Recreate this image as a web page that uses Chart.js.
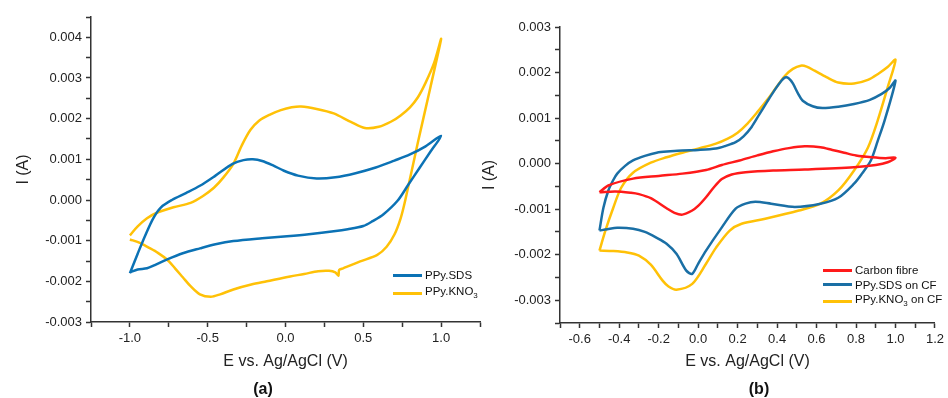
<!DOCTYPE html>
<html>
<head>
<meta charset="utf-8">
<script src="https://cdn.jsdelivr.net/npm/chart.js@4.4.1/dist/chart.umd.min.js"></script>
<style>
  body { margin: 0; background: #fff; }
  #wrap { position: relative; width: 948px; height: 398px; overflow: hidden; font-family: "Liberation Sans", Arial, sans-serif; }
  canvas { position: absolute; top: 0; }
  #chartA { left: 0; }
  #chartB { left: 474px; }
  .panel-label { position: absolute; font-weight: bold; font-size: 16px; line-height: 16px; color: #111; transform: translate(-50%, -50%); }
  .legend { position: absolute; font-size: 11.5px; color: #111; }
  .legend .row { display: flex; align-items: center; white-space: nowrap; }
  .legend .swatch { display: inline-block; width: 29px; height: 0; border-top: 3px solid; margin-right: 3px; }
</style>
</head>
<body>
<div id="wrap">
  <canvas id="chartA" width="490" height="398"></canvas>
  <canvas id="chartB" width="474" height="398"></canvas>
  <div class="legend" id="legendA" style="left:393px; top:267px; line-height:16px;"></div>
  <div class="legend" id="legendB" style="left:823px; top:263px; line-height:14.5px;"></div>
  <div class="panel-label" style="left:263px; top:389px;">(a)</div>
  <div class="panel-label" style="left:759px; top:389px;">(b)</div>
</div>
<script>
// Panel (a): PPy films, potential in V and current in A
const sdsE = [-1.00, -0.95, -0.90, -0.85, -0.80, -0.73, -0.64, -0.55, -0.45, -0.34, -0.27, -0.21, -0.15, -0.08, -0.01, 0.08, 0.20, 0.32, 0.45, 0.58, 0.70, 0.80, 0.90, 1.00,
  0.93, 0.86, 0.79, 0.72, 0.63, 0.56, 0.50, 0.40, 0.31, 0.15, 0.01, -0.15, -0.335, -0.45, -0.55, -0.66, -0.76, -0.84, -0.89, -0.95, -1.00];
const sdsI = [-0.00180, -0.00132, -0.00086, -0.00045, -0.00018, 0.00000, 0.00017, 0.00035, 0.00060, 0.00089, 0.00098, 0.00100, 0.00096, 0.00085, 0.00072, 0.00060, 0.00053, 0.00056, 0.00066, 0.00080, 0.00097, 0.00112, 0.00132, 0.00158,
  0.00118, 0.00078, 0.00038, -0.00002, -0.00035, -0.00052, -0.00064, -0.00072, -0.00077, -0.00084, -0.00089, -0.00094, -0.00101, -0.00109, -0.00119, -0.00131, -0.00146, -0.00160, -0.00168, -0.00171, -0.00178];

const kno3E = [-1.00, -0.95, -0.89, -0.83, -0.72, -0.61, -0.53, -0.46, -0.40, -0.335, -0.28, -0.226, -0.17, -0.10, -0.03, 0.04, 0.10, 0.20, 0.31, 0.42, 0.51, 0.60, 0.68, 0.74, 0.80, 0.85, 0.90, 0.955, 1.00,
  0.93, 0.85, 0.77, 0.74, 0.70, 0.65, 0.59, 0.48, 0.37, 0.345, 0.34, 0.32, 0.28, 0.21, 0.12, 0.03, -0.12, -0.22, -0.335, -0.42, -0.48, -0.55, -0.61, -0.66, -0.71, -0.76, -0.82, -0.88, -0.94, -1.00];
const kno3I = [-0.00087, -0.00065, -0.00045, -0.00032, -0.00018, -0.00007, 0.00010, 0.00030, 0.00055, 0.00089, 0.00135, 0.00172, 0.00195, 0.00210, 0.00221, 0.00228, 0.00230, 0.00224, 0.00213, 0.00192, 0.00177, 0.00180, 0.00193, 0.00208, 0.00228, 0.00252, 0.00288, 0.00337, 0.00396,
  0.00275, 0.00140, 0.00000, -0.00045, -0.00085, -0.00115, -0.00135, -0.00151, -0.00168, -0.00172, -0.00186, -0.00178, -0.00174, -0.00175, -0.00182, -0.00188, -0.00200, -0.00208, -0.00220, -0.00232, -0.00238, -0.00232, -0.00212, -0.00190, -0.00168, -0.00147, -0.00130, -0.00117, -0.00105, -0.00097];

// Panel (b): on carbon fibre
const cfE = [-0.50, -0.455, -0.33, -0.20, -0.08, 0.04, 0.12, 0.21, 0.30, 0.38, 0.46, 0.54, 0.62, 0.68, 0.74, 0.80, 0.88, 0.95, 1.00,
  0.96, 0.90, 0.79, 0.54, 0.38, 0.24, 0.17, 0.12, 0.08, 0.04, 0.00, -0.03, -0.08, -0.12, -0.16, -0.24, -0.30, -0.34, -0.42, -0.50];
const cfI = [-0.00063, -0.00048, -0.00033, -0.00027, -0.00022, -0.00014, -0.00003, 0.00007, 0.00018, 0.00027, 0.00034, 0.00038, 0.00036, 0.00030, 0.00024, 0.00018, 0.00014, 0.00012, 0.00013,
  0.00003, -0.00003, -0.00008, -0.00013, -0.00015, -0.00019, -0.00024, -0.00034, -0.00052, -0.00074, -0.00093, -0.00103, -0.00112, -0.00108, -0.00098, -0.00076, -0.00067, -0.00064, -0.00061, -0.00063];

const sdsCfE = [-0.50, -0.48, -0.455, -0.43, -0.41, -0.37, -0.33, -0.27, -0.21, -0.14, -0.08, 0.00, 0.09, 0.14, 0.19, 0.23, 0.27, 0.31, 0.35, 0.39, 0.42, 0.44, 0.46, 0.48, 0.505, 0.53, 0.58, 0.63, 0.71, 0.79, 0.87, 0.93, 0.97, 1.00,
  0.945, 0.91, 0.875, 0.83, 0.79, 0.71, 0.62, 0.49, 0.37, 0.29, 0.24, 0.19, 0.12, 0.04, 0.00, -0.03, -0.06, -0.11, -0.16, -0.21, -0.27, -0.33, -0.41, -0.46, -0.50];
const sdsCfI = [-0.00147, -0.00097, -0.00059, -0.00036, -0.00022, -0.00005, 0.00007, 0.00017, 0.00024, 0.00027, 0.00029, 0.00030, 0.00033, 0.00039, 0.00047, 0.00060, 0.00080, 0.00108, 0.00136, 0.00163, 0.00181, 0.00189, 0.00187, 0.00176, 0.00155, 0.00138, 0.00126, 0.00122, 0.00125, 0.00131, 0.00140, 0.00153, 0.00166, 0.00182,
  0.00095, 0.00050, 0.00007, -0.00022, -0.00044, -0.00075, -0.00088, -0.00095, -0.00088, -0.00084, -0.00088, -0.00099, -0.00140, -0.00191, -0.00220, -0.00242, -0.00235, -0.00198, -0.00176, -0.00163, -0.00150, -0.00143, -0.00141, -0.00144, -0.00147];

const kno3CfE = [-0.50, -0.47, -0.43, -0.39, -0.33, -0.24, -0.16, -0.08, 0.00, 0.09, 0.15, 0.20, 0.25, 0.30, 0.35, 0.40, 0.44, 0.48, 0.52, 0.55, 0.59, 0.65, 0.71, 0.79, 0.86, 0.915, 0.96, 1.00,
  0.96, 0.91, 0.86, 0.79, 0.71, 0.62, 0.51, 0.34, 0.22, 0.16, 0.09, 0.04, -0.03, -0.11, -0.15, -0.18, -0.24, -0.30, -0.36, -0.43, -0.50];
const kno3CfI = [-0.00191, -0.00147, -0.00097, -0.00053, -0.00020, 0.00002, 0.00014, 0.00024, 0.00033, 0.00044, 0.00055, 0.00068, 0.00088, 0.00113, 0.00140, 0.00170, 0.00193, 0.00208, 0.00215, 0.00213, 0.00204, 0.00190, 0.00178, 0.00176, 0.00184, 0.00198, 0.00212, 0.00228,
  0.00167, 0.00095, 0.00035, -0.00015, -0.00059, -0.00088, -0.00103, -0.00121, -0.00132, -0.00147, -0.00185, -0.00220, -0.00264, -0.00277, -0.00270, -0.00257, -0.00222, -0.00202, -0.00195, -0.00192, -0.00191];

const BLUE_A = "#0b72b5";
const BLUE_B = "#1a6fa5";
const YELLOW = "#ffc107";
const RED = "#ff1a1a";
const FONT = "'Liberation Sans', Arial, sans-serif";

function pts(xs, ys) {
  return xs.map((x, i) => ({ x: x, y: ys[i] }));
}

function line(label, xs, ys, color) {
  return {
    label: label,
    data: pts(xs, ys),
    showLine: true,
    borderColor: color,
    backgroundColor: color,
    borderWidth: 2.5,
    pointRadius: 0,
    tension: 0.3,
    fill: false,
  };
}

// every step gets a tick mark, only the major ones get a label
function axis(opts) {
  return {
    type: "linear",
    min: opts.min,
    max: opts.max,
    afterFit: opts.afterFit,
    border: { display: true, color: "#333", width: 1.5 },
    grid: { display: true, drawOnChartArea: false, drawTicks: true, tickLength: 5, tickColor: "#333", tickWidth: 1.5 },
    title: {
      display: true,
      text: opts.title,
      color: "#222",
      font: { family: FONT, size: 16 },
      padding: opts.titlePadding,
    },
    ticks: {
      stepSize: opts.step,
      autoSkip: false,
      maxRotation: 0,
      padding: 4,
      color: "#222",
      font: { family: FONT, size: 13 },
      callback: (v) => {
        const n = Math.round(v / opts.step);
        if (n % 2 !== 0) return "";
        if (Math.abs(v) < 1e-9) return (0).toFixed(opts.digits);
        return v.toFixed(opts.digits);
      },
    },
  };
}

function makeChart(id, datasets, xOpts, yOpts, pad) {
  return new Chart(document.getElementById(id), {
    type: "scatter",
    data: { datasets: datasets },
    options: {
      responsive: false,
      animation: false,
      devicePixelRatio: 1,
      layout: { padding: pad },
      plugins: { legend: { display: false }, tooltip: { enabled: false } },
      scales: { x: axis(xOpts), y: axis(yOpts) },
    },
  });
}

const chartA = makeChart(
  "chartA",
  [line("PPy.SDS", sdsE, sdsI, BLUE_A), line("PPy.KNO3", kno3E, kno3I, YELLOW)],
  { min: -1.25, max: 1.25, step: 0.25, digits: 1, title: "E vs. Ag/AgCl (V)", titlePadding: { top: 0, bottom: 27 },
    afterFit: (s) => { s.height = 76; } },
  { min: -0.003, max: 0.0045, step: 0.0005, digits: 3, title: "I (A)", titlePadding: { top: 14, bottom: 0 },
    afterFit: (s) => { s.width = 91; } },
  { top: 17, right: 10, left: 0, bottom: 0 }
);

const chartB = makeChart(
  "chartB",
  [line("Carbon fibre", cfE, cfI, RED), line("PPy.SDS on CF", sdsCfE, sdsCfI, BLUE_B), line("PPy.KNO3 on CF", kno3CfE, kno3CfI, YELLOW)],
  { min: -0.7, max: 1.2, step: 0.1, digits: 1, title: "E vs. Ag/AgCl (V)", titlePadding: { top: 0, bottom: 27 },
    afterFit: (s) => { s.height = 75; } },
  { min: -0.0035, max: 0.003, step: 0.0005, digits: 3, title: "I (A)", titlePadding: { top: 6, bottom: 0 },
    afterFit: (s) => { s.width = 86; } },
  { top: 27, right: 10, left: 0, bottom: 0 }
);

// html legends so KNO3 can carry a real subscript
function buildLegend(el, chart) {
  chart.data.datasets.forEach((ds) => {
    const row = document.createElement("div");
    row.className = "row";
    const sw = document.createElement("span");
    sw.className = "swatch";
    sw.style.borderColor = ds.borderColor;
    const txt = document.createElement("span");
    txt.innerHTML = ds.label.replace("KNO3", "KNO<sub style='font-size:8px'>3</sub>");
    row.appendChild(sw);
    row.appendChild(txt);
    el.appendChild(row);
  });
}
buildLegend(document.getElementById("legendA"), chartA);
buildLegend(document.getElementById("legendB"), chartB);
</script>
</body>
</html>
